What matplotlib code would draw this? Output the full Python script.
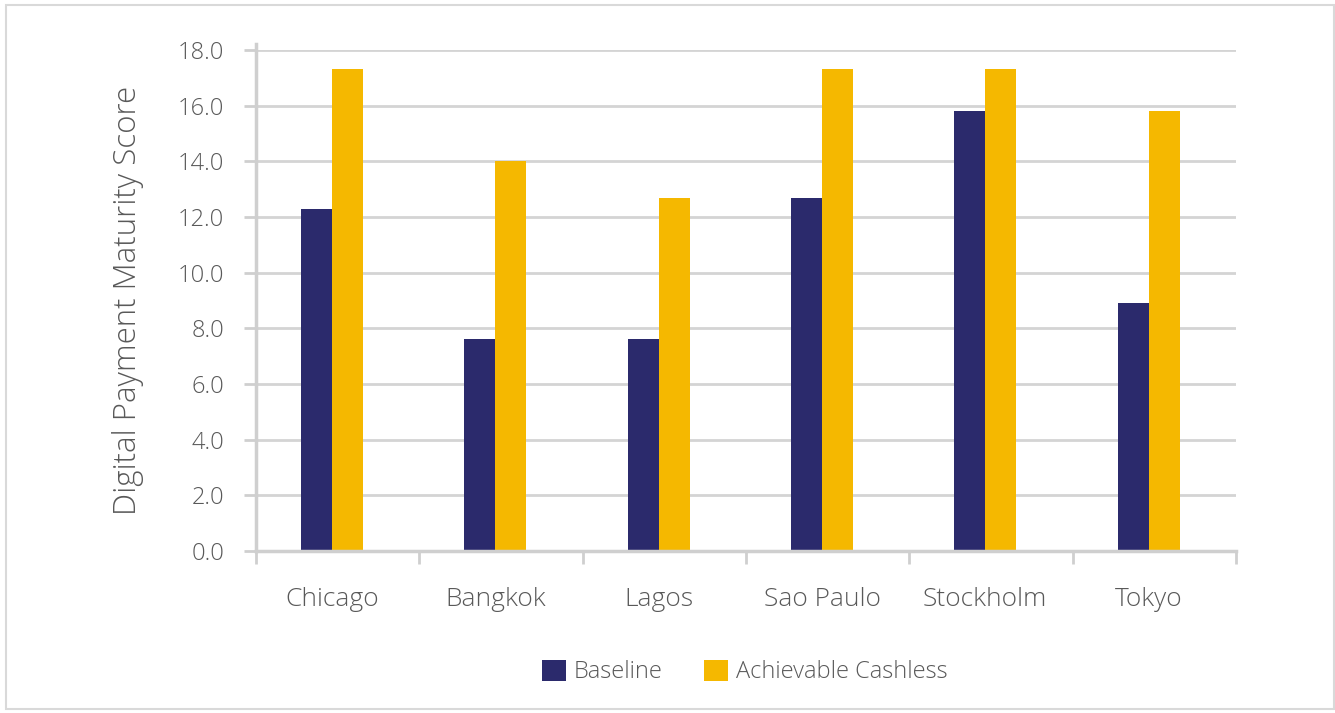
import matplotlib
matplotlib.use("Agg")
import matplotlib.pyplot as plt
import numpy as np
from matplotlib.patches import Rectangle
from matplotlib import font_manager

cities = ["Chicago", "Bangkok", "Lagos", "Sao Paulo", "Stockholm", "Tokyo"]
baseline = [12.3, 7.6, 7.6, 12.7, 15.8, 8.9]
achievable = [17.3, 14.0, 12.7, 17.3, 17.3, 15.8]
series_names = ["Baseline", "Achievable Cashless"]
yticks = [0, 2, 4, 6, 8, 10, 12, 14, 16, 18]

navy = "#2b2a6c"
gold = "#f5b800"
text_gray = "#595959"
grid_gray = "#d4d4d4"

names = {f.name for f in font_manager.fontManager.ttflist}
family = "Open Sans" if "Open Sans" in names else "DejaVu Sans"
plt.rcParams["font.family"] = [family, "DejaVu Sans"]
plt.rcParams["font.weight"] = "light"

fig = plt.figure(figsize=(13.35, 7.13), dpi=100)
W, H = 1335, 713

# light frame around the whole chart
fig.patches.append(Rectangle((6 / W, 4 / H), 1328 / W, 704 / H, transform=fig.transFigure,
                             fill=False, edgecolor="#d9d9d9", linewidth=1.5))

ax = fig.add_axes([256 / W, (H - 551) / H, 980 / W, 501 / H])
x = np.arange(len(cities))
bw = 0.19
shift = -0.035  # bar pairs sit slightly left of each category centre
ax.bar(x + shift - bw / 2, baseline, bw, color=navy, label=series_names[0], zorder=3)
ax.bar(x + shift + bw / 2, achievable, bw, color=gold, label=series_names[1], zorder=3)

ax.set_xlim(-0.5, len(cities) - 0.5)
ax.set_ylim(0, 18)
ax.set_yticks(yticks)
ax.set_yticklabels([f"{v:.1f}" for v in yticks])
ax.yaxis.grid(True, color=grid_gray, linewidth=2, zorder=0)
ax.set_axisbelow(True)

for s in ["top", "right"]:
    ax.spines[s].set_visible(False)
for s in ["left", "bottom"]:
    ax.spines[s].set_color("#cfcfcf")
    ax.spines[s].set_linewidth(2.5)
    ax.spines[s].set_zorder(4)
ax.spines["left"].set_bounds(0, 18.2)

ax.set_xticks(np.arange(-0.5, len(cities), 1.0))
ax.set_xticklabels([])
ax.set_xticks(x + shift, minor=True)
ax.set_xticklabels(cities, minor=True)
ax.tick_params(axis="x", which="major", length=9, width=2, color="#cfcfcf", direction="out")
ax.tick_params(axis="x", which="minor", length=0, pad=26, labelsize=19, labelcolor=text_gray)
ax.tick_params(axis="y", length=9, width=2, color="#cfcfcf", labelsize=17,
               labelcolor=text_gray, pad=14)
for lab in ax.get_yticklabels() + ax.get_xticklabels(minor=True):
    lab.set_fontweight("light")

ax.set_ylabel("Digital Payment Maturity Score", fontsize=22.5, color=text_gray,
              labelpad=24, fontweight="light")

leg = fig.legend(loc="center", bbox_to_anchor=(745 / W, (H - 672) / H), ncol=2,
                 frameon=False, fontsize=17, handlelength=1.0, handleheight=1.0,
                 handletextpad=0.35, columnspacing=1.75)
for t in leg.get_texts():
    t.set_color(text_gray)
    t.set_fontweight("light")

fig.savefig("out.png", dpi=100)
